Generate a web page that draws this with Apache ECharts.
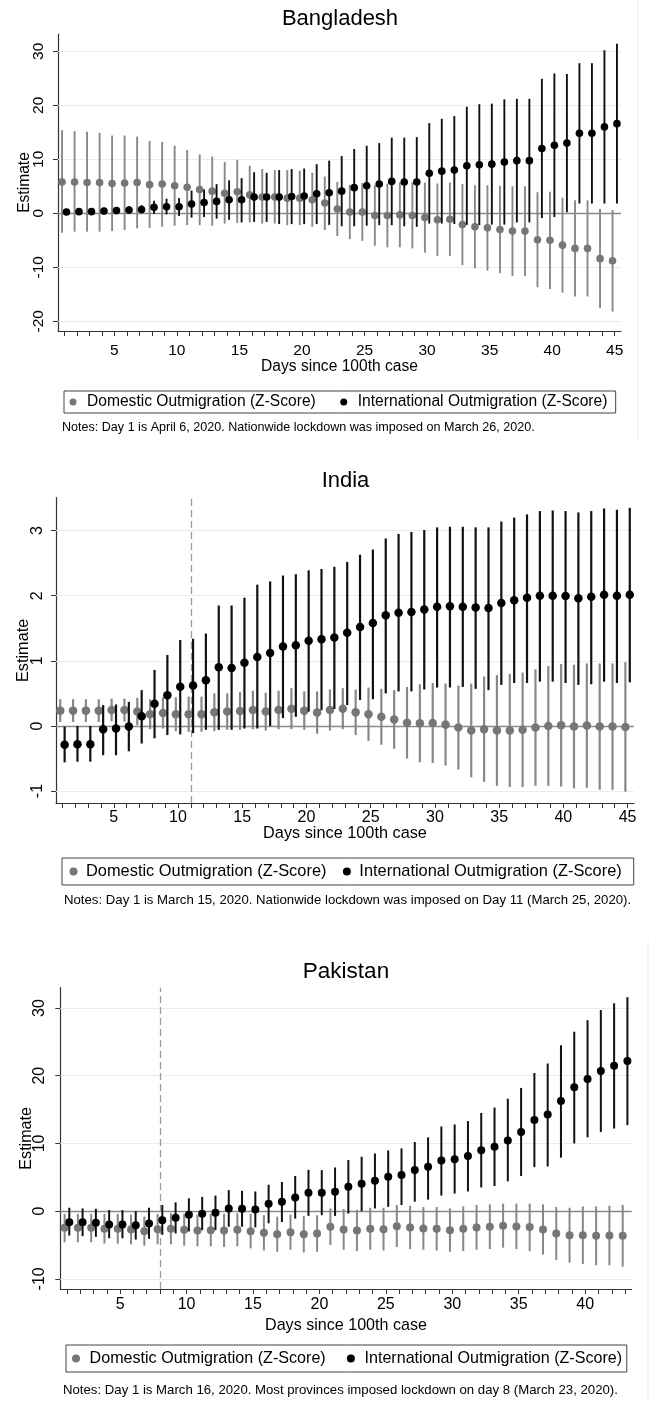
<!DOCTYPE html>
<html><head><meta charset="utf-8">
<script src="https://cdn.jsdelivr.net/npm/echarts@6/dist/echarts.min.js"></script>
<style>html,body{margin:0;padding:0;background:#fff}#c{width:652px;height:1402px}</style>
</head><body><div id="c"></div>
<script>
const FONT = '"Liberation Sans", Arial, Helvetica, sans-serif';
const DOM = 'Domestic Outmigration (Z-Score)';
const INTL = 'International Outmigration (Z-Score)';

// ---------- Bangladesh ----------
const bdDays = [1,2,3,4,5,6,7,8,9,10,11,12,13,14,15,16,17,18,19,20,21,22,23,24,25,26,27,28,29,30,31,32,33,34,35,36,37,38,39,40,41,42,43,44,45];
const bdDomEst = [5.8,5.8,5.7,5.7,5.5,5.6,5.7,5.3,5.4,5.1,4.8,4.4,4.1,3.7,4.0,3.4,3.0,3.0,2.8,2.8,2.5,1.9,0.8,0.25,0.25,-0.4,-0.4,-0.3,-0.4,-0.8,-1.2,-1.1,-2.1,-2.5,-2.7,-3.0,-3.3,-3.3,-4.9,-5.0,-5.9,-6.5,-6.5,-8.4,-8.8];
const bdDomLo = [-3.6,-3.4,-3.4,-3.4,-3.3,-3.1,-2.8,-2.7,-2.5,-2.3,-2.2,-2.2,-2.3,-1.9,-1.8,-1.7,-1.9,-1.9,-2.2,-2.2,-2.5,-3.1,-4.2,-4.8,-5.1,-6.0,-6.3,-6.3,-6.5,-7.3,-7.9,-7.9,-9.6,-10.2,-10.6,-11.1,-11.6,-11.6,-13.7,-14.0,-14.7,-15.4,-15.4,-17.6,-18.2];
const bdDomHi = [15.4,15.2,15.1,14.9,14.4,14.4,14.2,13.4,13.2,12.5,11.7,10.9,10.5,9.5,9.9,8.8,8.2,8.0,8.0,7.9,7.5,6.8,5.8,5.3,5.6,5.2,5.5,5.7,5.7,5.7,5.5,5.7,5.4,5.2,5.2,5.1,5.0,5.0,3.9,4.0,2.9,2.4,2.4,0.8,0.6];
const bdIntEst = [0.25,0.3,0.3,0.4,0.5,0.6,0.7,1.1,1.2,1.2,1.7,2.0,2.2,2.5,2.5,3.0,3.0,3.0,3.1,3.2,3.6,3.8,4.1,4.75,5.1,5.4,5.9,5.8,5.8,7.4,7.8,8.0,8.8,9.0,9.1,9.5,9.75,9.75,12.0,12.6,13.0,14.8,14.8,16.0,16.6];
const bdIntLo = [-0.1,-0.1,-0.1,-0.1,-0.1,-0.1,0.0,-0.1,-0.2,-0.5,-0.8,-0.7,-1.0,-1.2,-1.7,-1.6,-1.6,-2.0,-2.0,-2.0,-2.0,-2.15,-2.4,-2.4,-2.3,-2.2,-2.2,-2.4,-2.5,-1.9,-1.9,-2.0,-2.15,-2.2,-2.1,-2.1,-1.7,-1.7,-0.9,-0.7,0.2,1.8,1.8,1.8,1.8];
const bdIntHi = [0.6,0.7,0.7,0.9,1.1,1.3,1.5,2.3,2.7,2.8,4.2,4.4,5.4,6.1,6.5,7.6,7.5,8.0,8.2,8.3,9.1,9.75,10.6,11.9,12.5,13.0,14.0,14.0,14.1,16.7,17.5,18.0,19.75,20.2,20.3,21.1,21.2,21.2,24.9,25.9,25.8,27.8,27.8,30.2,31.4];
const bdYTicks = [-20,-10,0,10,20,30];
const bdXLabels = [5,10,15,20,25,30,35,40,45];

// ---------- India ----------
const inDays = [1,2,3,4,5,6,7,8,9,10,11,12,13,14,15,16,17,18,19,20,21,22,23,24,25,26,27,28,29,30,31,32,33,34,35,36,37,38,39,40,41,42,43,44,45];
const inDomEst = [0.235,0.235,0.235,0.235,0.245,0.245,0.22,0.18,0.2,0.18,0.18,0.18,0.21,0.22,0.23,0.245,0.22,0.245,0.265,0.235,0.205,0.245,0.265,0.21,0.18,0.14,0.10,0.05,0.04,0.045,0.02,-0.025,-0.07,-0.05,-0.07,-0.07,-0.06,-0.025,0.0,0.01,-0.01,0.005,-0.01,-0.01,-0.015];
const inDomLo = [0.06,0.06,0.06,0.06,0.07,0.07,0.01,-0.05,-0.04,-0.08,-0.09,-0.09,-0.08,-0.06,-0.06,-0.05,-0.07,-0.05,-0.05,-0.06,-0.12,-0.07,-0.05,-0.14,-0.23,-0.29,-0.35,-0.50,-0.56,-0.57,-0.61,-0.67,-0.79,-0.86,-0.92,-0.94,-0.94,-0.92,-0.92,-0.93,-0.96,-0.95,-0.98,-0.98,-1.01];
const inDomHi = [0.41,0.41,0.41,0.41,0.42,0.42,0.43,0.41,0.44,0.44,0.45,0.45,0.50,0.50,0.52,0.54,0.51,0.54,0.58,0.53,0.53,0.56,0.58,0.56,0.59,0.57,0.55,0.60,0.64,0.66,0.65,0.62,0.65,0.76,0.78,0.80,0.82,0.87,0.92,0.95,0.94,0.96,0.96,0.96,0.98];
const inIntEst = [-0.29,-0.28,-0.28,-0.05,-0.04,-0.01,0.15,0.34,0.47,0.60,0.62,0.70,0.90,0.89,0.97,1.06,1.12,1.22,1.24,1.31,1.33,1.36,1.43,1.52,1.58,1.70,1.74,1.75,1.79,1.83,1.84,1.83,1.82,1.81,1.89,1.93,1.97,2.0,2.0,1.995,1.96,1.985,2.015,2.0,2.015];
const inIntLo = [-0.56,-0.55,-0.55,-0.45,-0.45,-0.39,-0.27,-0.19,-0.14,-0.13,-0.11,-0.06,-0.06,-0.06,-0.04,-0.04,0.0,0.12,0.14,0.22,0.24,0.26,0.32,0.40,0.41,0.50,0.53,0.53,0.56,0.59,0.59,0.60,0.57,0.55,0.63,0.66,0.66,0.68,0.68,0.66,0.63,0.64,0.68,0.66,0.67];
const inIntHi = [-0.01,0.0,0.0,0.32,0.33,0.37,0.55,0.86,1.09,1.32,1.34,1.42,1.85,1.85,1.97,2.17,2.22,2.31,2.33,2.39,2.41,2.445,2.52,2.63,2.71,2.88,2.95,2.98,3.01,3.05,3.06,3.06,3.05,3.05,3.14,3.20,3.25,3.30,3.31,3.30,3.28,3.30,3.34,3.32,3.35];
const inYTicks = [-1,0,1,2,3];
const inXLabels = [5,10,15,20,25,30,35,40,45];
const inLockdown = [11];

// ---------- Pakistan ----------
const pkDays = [1,2,3,4,5,6,7,8,9,10,11,12,13,14,15,16,17,18,19,20,21,22,23,24,25,26,27,28,29,30,31,32,33,34,35,36,37,38,39,40,41,42,43];
const pkDomEst = [-2.46,-2.46,-2.46,-2.61,-2.61,-2.71,-2.96,-2.66,-2.61,-2.76,-2.86,-2.81,-2.86,-2.76,-2.96,-3.2,-3.4,-3.1,-3.4,-3.3,-2.32,-2.71,-2.86,-2.61,-2.66,-2.22,-2.41,-2.56,-2.61,-2.81,-2.61,-2.41,-2.32,-2.17,-2.27,-2.36,-2.71,-3.3,-3.55,-3.55,-3.65,-3.6,-3.65];
const pkDomLo = [-4.6,-4.6,-4.6,-4.8,-4.8,-4.9,-5.1,-4.9,-4.9,-5.1,-5.2,-5.2,-5.3,-5.2,-5.5,-5.8,-6.0,-5.7,-6.1,-6.0,-5.0,-5.7,-5.9,-5.7,-5.8,-5.3,-5.6,-5.7,-5.8,-6.0,-5.9,-5.7,-5.6,-5.4,-5.6,-5.9,-6.4,-7.2,-7.6,-7.8,-8.0,-8.0,-8.2];
const pkDomHi = [-0.4,-0.4,-0.4,-0.4,-0.4,-0.5,-0.8,-0.4,-0.3,-0.4,-0.5,-0.4,-0.4,-0.3,-0.4,-0.6,-0.8,-0.5,-0.7,-0.6,0.4,0.3,0.2,0.5,0.5,0.9,0.8,0.6,0.6,0.4,0.7,0.9,1.0,1.1,1.1,1.1,1.0,0.6,0.5,0.7,0.7,0.8,0.9];
const pkIntEst = [-1.63,-1.63,-1.72,-1.97,-1.97,-2.1,-1.82,-1.33,-0.99,-0.54,-0.39,-0.25,0.39,0.34,0.25,1.08,1.38,2.0,2.7,2.71,2.86,3.6,4.04,4.48,5.07,5.32,6.06,6.55,7.49,7.68,8.13,9.01,9.51,10.44,11.67,13.45,14.29,16.26,18.28,19.51,20.69,21.48,22.17];
const pkIntLo = [-3.6,-3.7,-3.8,-4.0,-4.0,-4.2,-4.1,-3.5,-3.3,-3.0,-2.8,-2.8,-2.3,-2.3,-2.4,-1.8,-1.6,-1.1,-0.7,-0.6,-0.7,-0.35,0.0,0.4,0.64,0.9,1.4,1.7,2.3,2.6,2.9,3.5,3.7,4.4,5.2,6.5,6.6,7.9,10.0,10.9,11.7,12.2,12.7];
const pkIntHi = [0.5,0.4,0.35,0.15,0.15,0.0,0.5,0.9,1.3,1.9,2.1,2.3,3.1,3.0,2.9,3.9,4.3,5.2,6.1,6.06,6.45,7.54,8.03,8.52,8.97,9.26,10.2,10.9,12.5,12.8,13.3,14.5,15.3,16.6,18.2,20.4,21.8,24.5,26.5,28.2,29.7,30.7,31.6];
const pkYTicks = [-10,0,10,20,30];
const pkXLabels = [5,10,15,20,25,30,35,40];
const pkLockdown = [8];

const titles = ['Bangladesh', 'India', 'Pakistan'];
const notes = [
  'Notes: Day 1 is April 6, 2020. Nationwide lockdown was imposed on March 26, 2020.',
  'Notes: Day 1 is March 15, 2020. Nationwide lockdown was imposed on Day 11 (March 25, 2020).',
  'Notes: Day 1 is March 16, 2020. Most provinces imposed lockdown on day 8 (March 23, 2020).'
];

const panels = [
  {days: bdDays, dEst: bdDomEst, dLo: bdDomLo, dHi: bdDomHi, iEst: bdIntEst, iLo: bdIntLo, iHi: bdIntHi, yTicks: bdYTicks, xLabels: bdXLabels, lock: []},
  {days: inDays, dEst: inDomEst, dLo: inDomLo, dHi: inDomHi, iEst: inIntEst, iLo: inIntLo, iHi: inIntHi, yTicks: inYTicks, xLabels: inXLabels, lock: inLockdown},
  {days: pkDays, dEst: pkDomEst, dLo: pkDomLo, dHi: pkDomHi, iEst: pkIntEst, iLo: pkIntLo, iHi: pkIntHi, yTicks: pkYTicks, xLabels: pkXLabels, lock: pkLockdown}
];

// layout / style (not data)
const L = [
  {grid:{left:58, top:34, width:563, height:297}, x:[0.5,45.5], y:[-21.8,33.2], sym:7.6, ciW:1.9, off:2.2,
   tickFs:15.5, xMargin:12, yMargin:11, nameFs:15.6, xGap:28, yGap:25,
   lg:{left:64, top:391, fs:15.6, lh:16, padV:3, padL:5.5, padR:8.3, dot:7, tp:5.5, gap:24.5},
   title:{x:340, y:18.5, fs:22}, note:{x:62, y:427.7, fs:12.57}},
  {grid:{left:56, top:497.7, width:578, height:305.3}, x:[0.5,45.5], y:[-1.184,3.506], sym:8.5, ciW:2.2, off:2.2,
   tickFs:16, xMargin:7, yMargin:10.5, nameFs:16.3, xGap:23, yGap:24.7,
   lg:{left:62, top:858, fs:16.4, lh:17, padV:5, padL:7.5, padR:12, dot:8, tp:3.5, gap:16.4},
   title:{x:345.5, y:481, fs:22}, note:{x:64, y:900, fs:13.2}},
  {grid:{left:60.3, top:987.7, width:571.4, height:301.3}, x:[0.5,43.5], y:[-11.5,33.0], sym:8, ciW:2, off:2.35,
   tickFs:16, xMargin:8, yMargin:12.3, nameFs:16.1, xGap:29, yGap:25.6,
   lg:{left:66, top:1345, fs:16.1, lh:17, padV:5, padL:6, padR:4.7, dot:8, tp:4.6, gap:21.2},
   title:{x:346, y:971.5, fs:22.5}, note:{x:63, y:1390, fs:13.2}}
];

const GRAY_PT = '#767676', GRAY_LN = '#888888', BLK_PT = '#000000', BLK_LN = '#111111';
const AX = '#333333';

function ciRender(off, color, width) {
  return function (params, api) {
    const p1 = api.coord([api.value(0), api.value(1)]);
    const p2 = api.coord([api.value(0), api.value(2)]);
    return {type: 'line', shape: {x1: p1[0] + off, y1: p1[1], x2: p2[0] + off, y2: p2[1]},
            style: {stroke: color, lineWidth: width}};
  };
}

const option = {animation: false, grid: [], xAxis: [], yAxis: [], legend: [], series: [], graphic: []};

panels.forEach((p, i) => {
  const s = L[i];
  option.grid.push(Object.assign({containLabel: false}, s.grid));
  option.xAxis.push({
    type: 'value', gridIndex: i, min: s.x[0], max: s.x[1],
    axisLine: {show: true, onZero: false, lineStyle: {color: AX, width: 1.2}},
    axisTick: {show: true, length: 5, customValues: p.days, lineStyle: {color: AX, width: 1}},
    axisLabel: {customValues: p.xLabels, margin: s.xMargin, fontSize: s.tickFs, color: '#000', fontFamily: FONT},
    splitLine: {show: false},
    name: 'Days since 100th case', nameLocation: 'middle', nameGap: s.xGap, nameMoveOverlap: false,
    nameTextStyle: {fontSize: s.nameFs, color: '#000', fontFamily: FONT}
  });
  option.yAxis.push({
    type: 'value', gridIndex: i, min: s.y[0], max: s.y[1],
    axisLine: {show: true, onZero: false, lineStyle: {color: AX, width: 1.2}},
    axisTick: {show: true, length: 5, customValues: p.yTicks, lineStyle: {color: AX, width: 1}},
    axisLabel: {customValues: p.yTicks, rotate: 90, margin: s.yMargin, fontSize: s.tickFs, color: '#000', fontFamily: FONT},
    splitLine: {show: false},
    name: 'Estimate', nameLocation: 'middle', nameGap: s.yGap, nameRotate: 90, nameMoveOverlap: false,
    nameTextStyle: {fontSize: s.nameFs, color: '#000', fontFamily: FONT}
  });
  const lines = p.yTicks.filter(v => v !== 0).map(v => ({yAxis: v, lineStyle: {color: '#ebebeb', width: 1, type: 'solid'}}));
  lines.push({yAxis: 0, lineStyle: {color: '#8a8a8a', width: 1.3, type: 'solid'}});
  p.lock.forEach(d => lines.push({xAxis: d, lineStyle: {color: '#9a9a9a', width: 1.3, type: [7, 4]}}));
  option.series.push({
    type: 'custom', name: 'dom-ci', xAxisIndex: i, yAxisIndex: i, z: 2, silent: true, clip: false,
    renderItem: ciRender(-s.off, GRAY_LN, s.ciW),
    data: p.days.map((d, k) => [d, p.dLo[k], p.dHi[k]]),
    markLine: {silent: true, symbol: 'none', z: 1, label: {show: false}, data: lines}
  });
  option.series.push({
    type: 'scatter', name: DOM, xAxisIndex: i, yAxisIndex: i, z: 3, silent: true,
    symbol: 'circle', symbolSize: s.sym, symbolOffset: [-s.off, 0],
    itemStyle: {color: GRAY_PT, opacity: 1},
    data: p.days.map((d, k) => [d, p.dEst[k]])
  });
  option.series.push({
    type: 'custom', name: 'int-ci', xAxisIndex: i, yAxisIndex: i, z: 4, silent: true, clip: false,
    renderItem: ciRender(s.off, BLK_LN, s.ciW),
    data: p.days.map((d, k) => [d, p.iLo[k], p.iHi[k]])
  });
  option.series.push({
    type: 'scatter', name: INTL, xAxisIndex: i, yAxisIndex: i, z: 5, silent: true,
    symbol: 'circle', symbolSize: s.sym, symbolOffset: [s.off, 0],
    itemStyle: {color: BLK_PT, opacity: 1},
    data: p.days.map((d, k) => [d, p.iEst[k]])
  });
  option.legend.push({
    data: [{name: DOM, icon: 'circle'}, {name: INTL, icon: 'circle'}],
    left: s.lg.left, top: s.lg.top, orient: 'horizontal', selectedMode: false,
    itemWidth: s.lg.dot, itemHeight: s.lg.dot, itemGap: s.lg.gap,
    padding: [s.lg.padV, s.lg.padR, s.lg.padV, s.lg.padL],
    borderColor: '#444', borderWidth: 1, borderRadius: 0,
    textStyle: {fontSize: s.lg.fs, lineHeight: s.lg.lh, color: '#000', fontFamily: FONT, padding: [0, 0, 0, s.lg.tp]}
  });
  option.graphic.push({type: 'text', x: s.title.x, y: s.title.y, silent: true,
    style: {text: titles[i], fontSize: s.title.fs, fontFamily: FONT, fill: '#000', align: 'center', verticalAlign: 'middle'}});
  option.graphic.push({type: 'text', x: s.note.x, y: s.note.y, silent: true,
    style: {text: notes[i], fontSize: s.note.fs, fontFamily: FONT, fill: '#000', align: 'left', verticalAlign: 'middle'}});
});

// faint scan-border lines seen at the right edge of the first and last panels
option.graphic.push({type: 'line', silent: true, shape: {x1: 638, y1: 0, x2: 638, y2: 440}, style: {stroke: '#ececec', lineWidth: 1}});
option.graphic.push({type: 'line', silent: true, shape: {x1: 648, y1: 940, x2: 648, y2: 1402}, style: {stroke: '#ececec', lineWidth: 1}});

const chart = echarts.init(document.getElementById('c'), null, {renderer: 'canvas', width: 652, height: 1402});
chart.setOption(option);
</script>
</body></html>
